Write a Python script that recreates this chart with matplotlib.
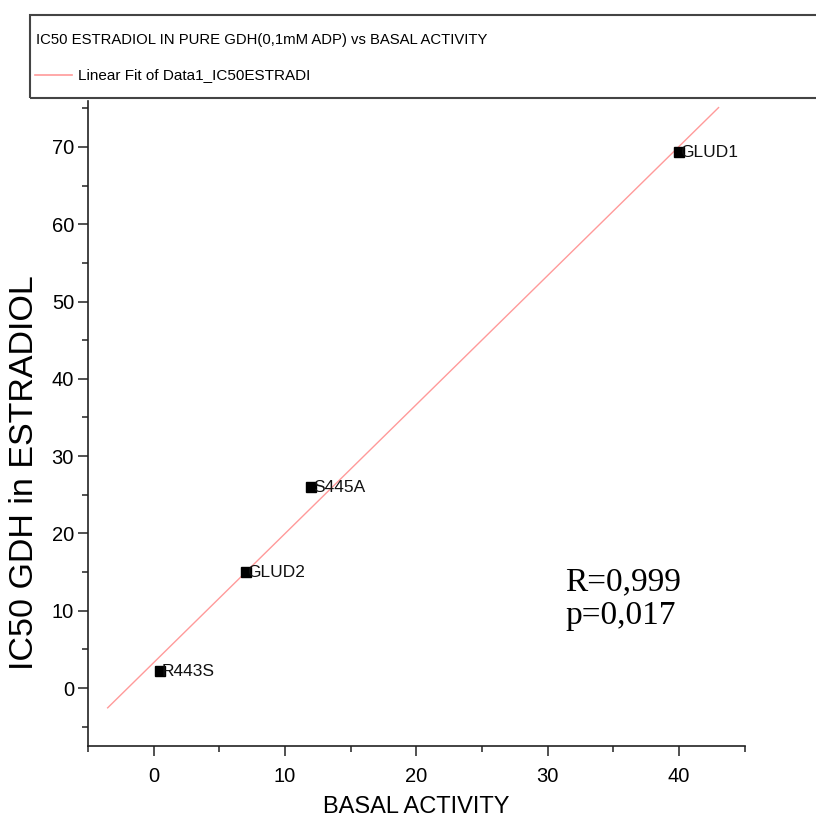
import numpy as np
import matplotlib
matplotlib.use('Agg')
from matplotlib import pyplot as plt
from matplotlib.patches import Rectangle
from matplotlib.lines import Line2D
from matplotlib.ticker import MultipleLocator

# measured points
names = ['GLUD1', 'S445A', 'GLUD2', 'R443S']
basal = [40.0, 12.0, 7.0, 0.5]
ic50 = [69.3, 26.0, 15.0, 2.2]
fit_range = [-3.5, 43.0]

plt.rcParams['font.family'] = ['Liberation Sans', 'DejaVu Sans']

fig = plt.figure(figsize=(8.16, 8.17), dpi=100)
ax = fig.add_axes([0.1078, 0.0869, 0.805, 0.790])

slope, inter = np.polyfit(basal, ic50, 1)
xf = np.array(fit_range)
ax.plot(xf, slope * xf + inter, color='#ff9a9a', lw=1.0, zorder=2)
ax.plot(basal, ic50, 's', color='black', ms=6.5, zorder=3)
for n, x, y in zip(names, basal, ic50):
    ax.annotate(n, (x, y), xytext=(1, 0), textcoords='offset points',
                ha='left', va='center', fontsize=12.5, color='#111111')

ax.set_xlim(-5, 45)
ax.set_ylim(-7.5, 76)
ax.xaxis.set_major_locator(MultipleLocator(10))
ax.xaxis.set_minor_locator(MultipleLocator(5))
ax.yaxis.set_major_locator(MultipleLocator(10))
ax.yaxis.set_minor_locator(MultipleLocator(5))
ax.set_xticks([0, 10, 20, 30, 40])
ax.set_yticks([0, 10, 20, 30, 40, 50, 60, 70])

for s in ['top', 'right']:
    ax.spines[s].set_visible(False)
for s in ['left', 'bottom']:
    ax.spines[s].set_linewidth(1.2)
    ax.spines[s].set_color('#222222')
ax.tick_params(which='major', direction='out', length=7, width=1.1, labelsize=14.5, color='#222222')
ax.tick_params(which='minor', direction='out', length=4, width=1.1, color='#222222')
ax.tick_params(axis='x', which='major', pad=8)
ax.tick_params(axis='y', which='major', pad=3)

ax.set_xlabel('BASAL ACTIVITY', fontsize=17, labelpad=7)
ax.set_ylabel('IC50 GDH in ESTRADIOL', fontsize=24.5)
ax.yaxis.set_label_coords(-0.073, 0.424)

ax.text(0.727, 0.228, 'R=0,999\np=0,017', transform=ax.transAxes, fontsize=24,
        family=['Liberation Serif', 'DejaVu Serif'], linespacing=1.1, va='center', ha='left')

# legend box at the top
fig.patches.append(Rectangle((30 / 816, 1 - 98 / 817), 800 / 816, 83 / 817,
                             transform=fig.transFigure, fill=False, lw=1.5,
                             edgecolor='#444444', zorder=5))
fig.text(36 / 816, 1 - 40 / 817, 'IC50 ESTRADIOL IN PURE GDH(0,1mM ADP) vs BASAL ACTIVITY',
         fontsize=10.7, ha='left', va='center')
fig.lines.append(Line2D([35 / 816, 72 / 816], [1 - 75 / 817, 1 - 75 / 817],
                        transform=fig.transFigure, color='#ff9a9a', lw=1.2))
fig.text(78 / 816, 1 - 75 / 817, 'Linear Fit of Data1_IC50ESTRADI',
         fontsize=11, ha='left', va='center')

fig.savefig('out.png', dpi=100)
